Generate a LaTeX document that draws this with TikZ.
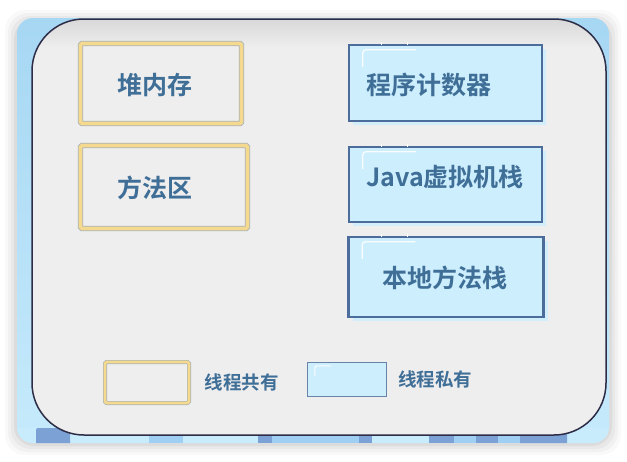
\documentclass[tikz,border=0pt]{standalone}
\usepackage{fontspec}
\newfontfamily\cjk{Noto Sans CJK SC}[BoldFont=* Bold]
\usetikzlibrary{positioning,shadows}
\definecolor{panelgray}{HTML}{EEEEEE}
\definecolor{paneledge}{HTML}{2E2D47}
\definecolor{wintop}{HTML}{A6D7F3}
\definecolor{winbottom}{HTML}{C6EAFC}
\definecolor{txtblue}{HTML}{3F6E97}
\definecolor{boxblue}{HTML}{CDEEFD}
\definecolor{boxedge}{HTML}{4C6D9B}
\definecolor{boxshade}{HTML}{D3EEFB}
\definecolor{gold}{HTML}{F5D98E}
\definecolor{goldedge}{HTML}{A9B3B6}
\definecolor{stripdark}{HTML}{7BA1D5}
\definecolor{stripmid}{HTML}{9FCFF3}
\definecolor{striplight}{HTML}{C9ECFD}
\newcommand{\hilite}[1]{%
	\draw[white, line width=1.3pt, rounded corners=3pt, opacity=0.9] ([shift={(15pt,-23pt)}]#1.north west) |- ([shift={(68pt,-6pt)}]#1.north west);
	\draw[white, line width=1pt] ([shift={(34pt,2pt)}]#1.north west) -- ++(0pt,-3pt);
	\draw[white, line width=1pt] ([shift={(60pt,2pt)}]#1.north west) -- ++(0pt,-3pt);
}

\begin{document}
\begin{tikzpicture}[x=1pt,y=-1pt,
	shared/.style={draw=goldedge, double=gold, double distance=3.6pt, line width=0.9pt, fill=panelgray, rounded corners=1.5pt, inner sep=0pt},
	private/.style={draw=boxedge, line width=2.4pt, fill=boxblue, inner sep=0pt, drop shadow={shadow xshift=4pt, shadow yshift=-4pt, fill=boxshade, opacity=1}},
	lbl/.style={text=txtblue, font=\cjk\bfseries\fontsize{25}{28}\selectfont, inner sep=0pt},
	keylbl/.style={text=txtblue, font=\cjk\bfseries\fontsize{18.5}{21}\selectfont, inner sep=0pt}]
	\useasboundingbox (0,0) rectangle (627,461);
	% soft shadow of the window
	\foreach \s/\o in {12/0.025,9/0.03,6/0.04,3/0.05}
		\fill[black, opacity=\o, rounded corners=20pt] (17-\s,22-\s) rectangle (609+\s,443+\s);
	\shade[top color=wintop, bottom color=winbottom, rounded corners=16pt] (17,18) rectangle (609,443);
	% strip under the panel
	\begin{scope}
		\clip[rounded corners=16pt] (17,18) rectangle (609,443);
		\fill[striplight] (17,428) rectangle (609,443);
		\fill[stripdark, rounded corners=2pt] (36,428) rectangle (70,446);
		\fill[stripmid] (149,428) rectangle (183,443);
		\fill[stripdark] (258,428) rectangle (272,443);
		\fill[stripmid] (272,428) rectangle (359,443);
		\fill[stripdark] (359,428) rectangle (372,443);
		\fill[stripdark] (429,428) rectangle (454,443);
		\fill[stripmid] (454,428) rectangle (476,443);
		\fill[stripdark] (476,428) rectangle (498,443);
		\fill[stripmid] (498,428) rectangle (520,443);
		\fill[stripdark, rounded corners=3pt] (520,428) rectangle (567,446);
	\end{scope}
	% panel
	\fill[panelgray, rounded corners=52pt] (32,19) rectangle (606,435);
	\begin{scope}
		\clip[rounded corners=52pt] (32,19) rectangle (606,435);
		\shade[top color=black!15, bottom color=panelgray] (32,19) rectangle (606,48);
	\end{scope}
	\draw[paneledge, line width=1.5pt, rounded corners=52pt] (32,19) rectangle (606,435);

	\node[shared, minimum width=161pt, minimum height=80pt] (heap) at (161,83.5) {};
	\node[shared, minimum width=167pt, minimum height=83pt] (method) at (164,187) {};
	\node[lbl] (heaptxt) at (155,85) {堆内存};
	\node[lbl] (methodtxt) at (155,188) {方法区};

	\node[private, minimum width=193pt, minimum height=76pt] (pc) at (445.5,83) {};
	\node[private, minimum width=193pt, minimum height=75pt] (jvms) at (445.5,184.5) {};
	\node[private, minimum width=195pt, minimum height=80pt] (nms) at (446,277) {};
	\hilite{pc}
	\hilite{jvms}
	\hilite{nms}
	\node[lbl, anchor=west] (pctxt) at (366,85) {程序计数器};
	\node[lbl, anchor=west] (jvmstxt) at (366,177) {Java虚拟机栈};
	\node[lbl] (nmstxt) at (445,278) {本地方法栈};

	% legend
	\node[shared, double distance=2.6pt, line width=0.7pt, minimum width=84pt, minimum height=41pt] (keyshared) at (147,382.5) {};
	\node[keylbl, right=15pt of keyshared] (keysharedtxt) {线程共有};
	\node[draw=boxedge!85, line width=1.2pt, fill=boxblue, minimum width=79pt, minimum height=34pt, inner sep=0pt] (keyprivate) at (347,379.5) {};
	\draw[white, line width=1pt, rounded corners=2pt, opacity=0.9] ([shift={(8pt,-14pt)}]keyprivate.north west) |- ([shift={(24pt,-4pt)}]keyprivate.north west);
	\node[keylbl, right=11pt of keyprivate] (keyprivatetxt) {线程私有};
\end{tikzpicture}
\end{document}
